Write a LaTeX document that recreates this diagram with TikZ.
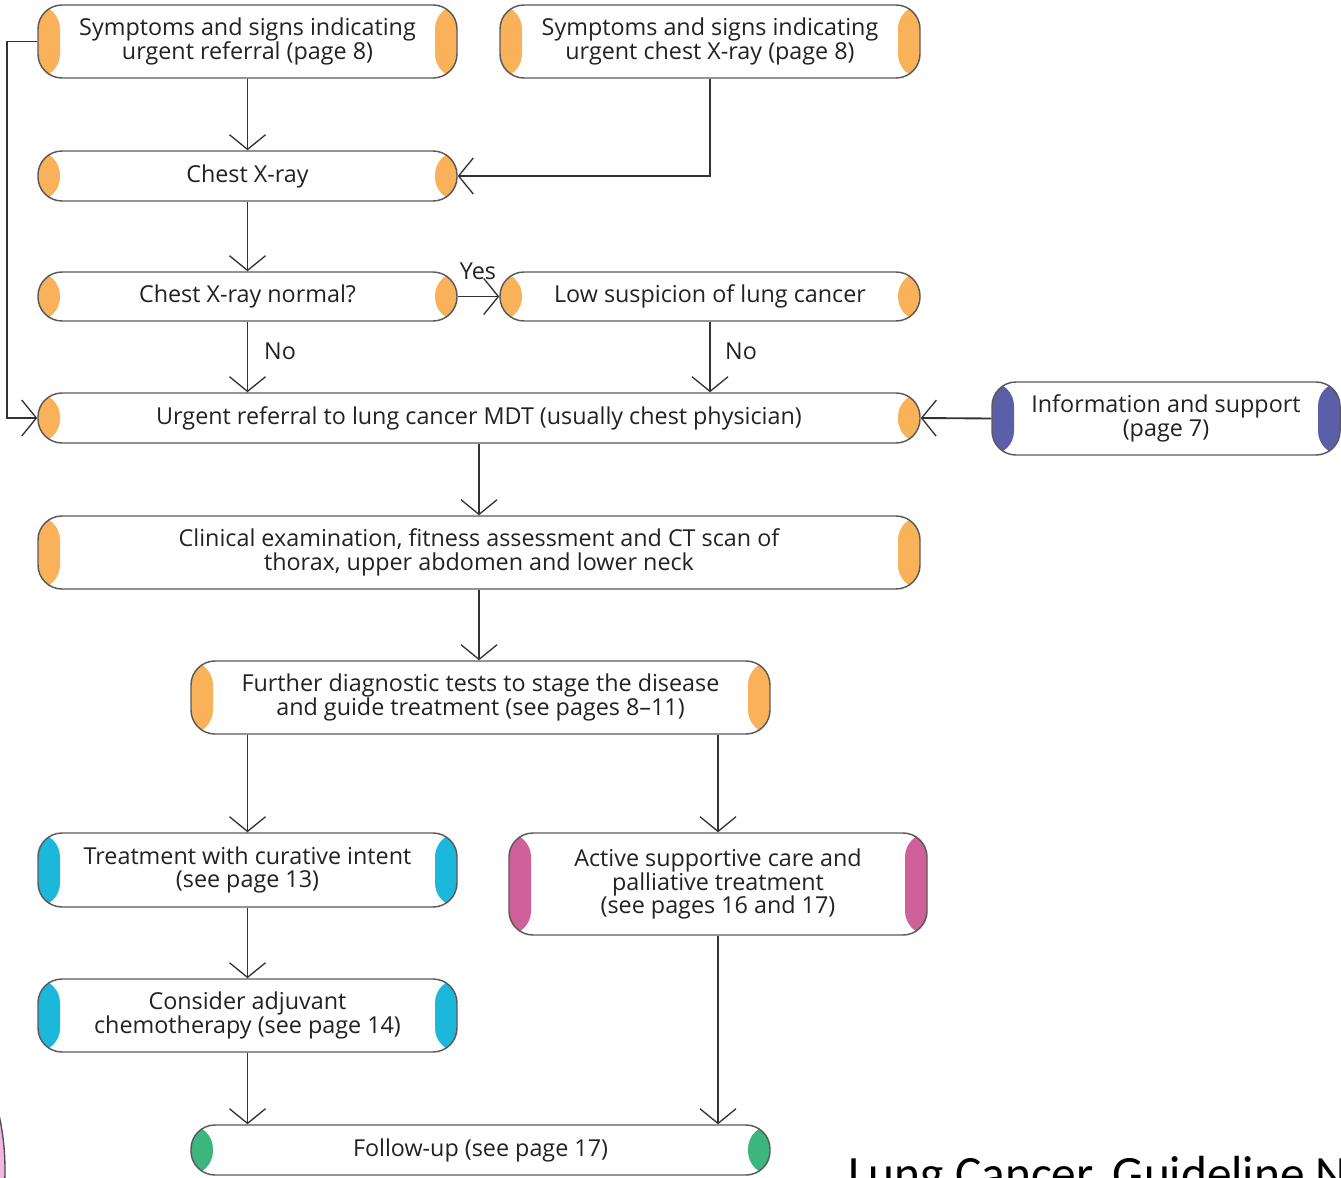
\documentclass[tikz,border=0pt]{standalone}
\usepackage{fontspec}
\setmainfont{Open Sans}
\newfontfamily\capfont{Carlito}
\usetikzlibrary{arrows.meta}
\definecolor{corange}{HTML}{F9B25A}
\definecolor{ccyan}{HTML}{1CB8DC}
\definecolor{cpurple}{HTML}{5B5EA8}
\definecolor{cpink}{HTML}{CF609A}
\definecolor{cgreen}{HTML}{3DB57E}
\definecolor{boxline}{HTML}{5A5A5A}
\definecolor{linecol}{HTML}{333333}
\definecolor{textcol}{HTML}{222222}
\definecolor{blob}{HTML}{F3B6E2}
\begin{document}
\begin{tikzpicture}[x=0.75pt,y=-0.75pt,
  box/.style={draw=boxline, line width=1.1pt, rounded corners=18pt, fill=white,
    align=center, inner sep=0pt, text=textcol, font=\fontsize{17.5}{17.6}\selectfont,
    path picture={
      \fill[#1] (path picture bounding box.south west) rectangle ([xshift=16.5pt]path picture bounding box.north west);
      \fill[#1] (path picture bounding box.south east) rectangle ([xshift=-16.5pt]path picture bounding box.north east);}},
  arr/.style={draw=linecol, line width=1.4pt, -{Straight Barb[length=11pt,width=27pt,line width=1pt]}},
  lab/.style={text=textcol, font=\fontsize{17.5}{17.6}\selectfont, inner sep=0pt},
]
\useasboundingbox (0,0) rectangle (1341,1177);

% decorative blob at lower left
\draw[fill=blob, draw=gray!60!black, line width=1pt] (-150,1170) ellipse [x radius=155, y radius=200];

\node[box=corange, minimum width=314.25pt, minimum height=54.75pt] (b1) at (247.5,41.5) {Symptoms and signs indicating\\urgent referral (page 8)};
\node[box=corange, minimum width=315pt, minimum height=54.75pt] (b2) at (710,41.5) {Symptoms and signs indicating\\urgent chest X-ray (page 8)};
\node[box=corange, minimum width=314.25pt, minimum height=37.5pt] (cxr) at (247.5,176) {Chest X-ray};
\node[box=corange, minimum width=314.25pt, minimum height=36.75pt] (normal) at (247.5,296.5) {Chest X-ray normal?};
\node[box=corange, minimum width=315pt, minimum height=36.75pt] (low) at (710,296.5) {Low suspicion of lung cancer};
\node[box=corange, minimum width=661.5pt, minimum height=37.5pt] (urgent) at (479,418) {Urgent referral to lung cancer MDT (usually chest physician)};
\node[box=cpurple, minimum width=261pt, minimum height=54.75pt] (info) at (1166,418.5) {Information and support\\(page 7)};
\node[box=corange, minimum width=661.5pt, minimum height=54.75pt] (clin) at (479,552.5) {Clinical examination, fitness assessment and CT scan of\\thorax, upper abdomen and lower neck};
\node[box=corange, minimum width=434.25pt, minimum height=54.75pt] (further) at (480.5,697.5) {Further diagnostic tests to stage the disease\\and guide treatment (see pages 8--11)};
\node[box=ccyan, minimum width=314.25pt, minimum height=55.5pt] (treat) at (247.5,870) {Treatment with curative intent\\(see page 13)};
\node[box=cpink, minimum width=313.5pt, minimum height=76.5pt] (active) at (718,884) {Active supportive care and\\palliative treatment\\(see pages 16 and 17)};
\node[box=ccyan, minimum width=314.25pt, minimum height=54.75pt] (adj) at (247.5,1015.5) {Consider adjuvant\\chemotherapy (see page 14)};
\node[box=cgreen, minimum width=434.25pt, minimum height=37.5pt] (follow) at (480.5,1150) {Follow-up (see page 17)};

\coordinate (loop) at (7,41.5);

\draw[arr] (b1.south) -- (cxr.north);
\draw[arr] (b2.south) |- (cxr.east);
\draw[arr] (cxr.south) -- (normal.north);
\draw[arr] (normal.east) -- (low.west);
\draw[arr] (normal.south) -- (normal.south |- urgent.north);
\draw[arr] (low.south) -- (low.south |- urgent.north);
\draw[arr] (b1.west) -- (loop) |- (urgent.west);
\draw[arr] (info.west) -- (urgent.east);
\draw[arr] (urgent.south) -- (clin.north);
\draw[arr] (clin.south) -- (clin.south |- further.north);
\draw[arr] (further.south -| treat.north) -- (treat.north);
\draw[arr] (further.south -| active.north) -- (active.north);
\draw[arr] (treat.south) -- (adj.north);
\draw[arr] (adj.south) -- (adj.south |- follow.north);
\draw[arr] (active.south) -- (active.south |- follow.north);

\node[lab] (yes) at (478,271) {Yes};
\node[lab] (no1) at (280,351) {No};
\node[lab] (no2) at (741,351) {No};

\node[anchor=base west, inner sep=0pt, font=\capfont\fontsize{37}{37}\selectfont] (title) at (848,1190) {Lung Cancer, Guideline N};
\end{tikzpicture}
\end{document}
